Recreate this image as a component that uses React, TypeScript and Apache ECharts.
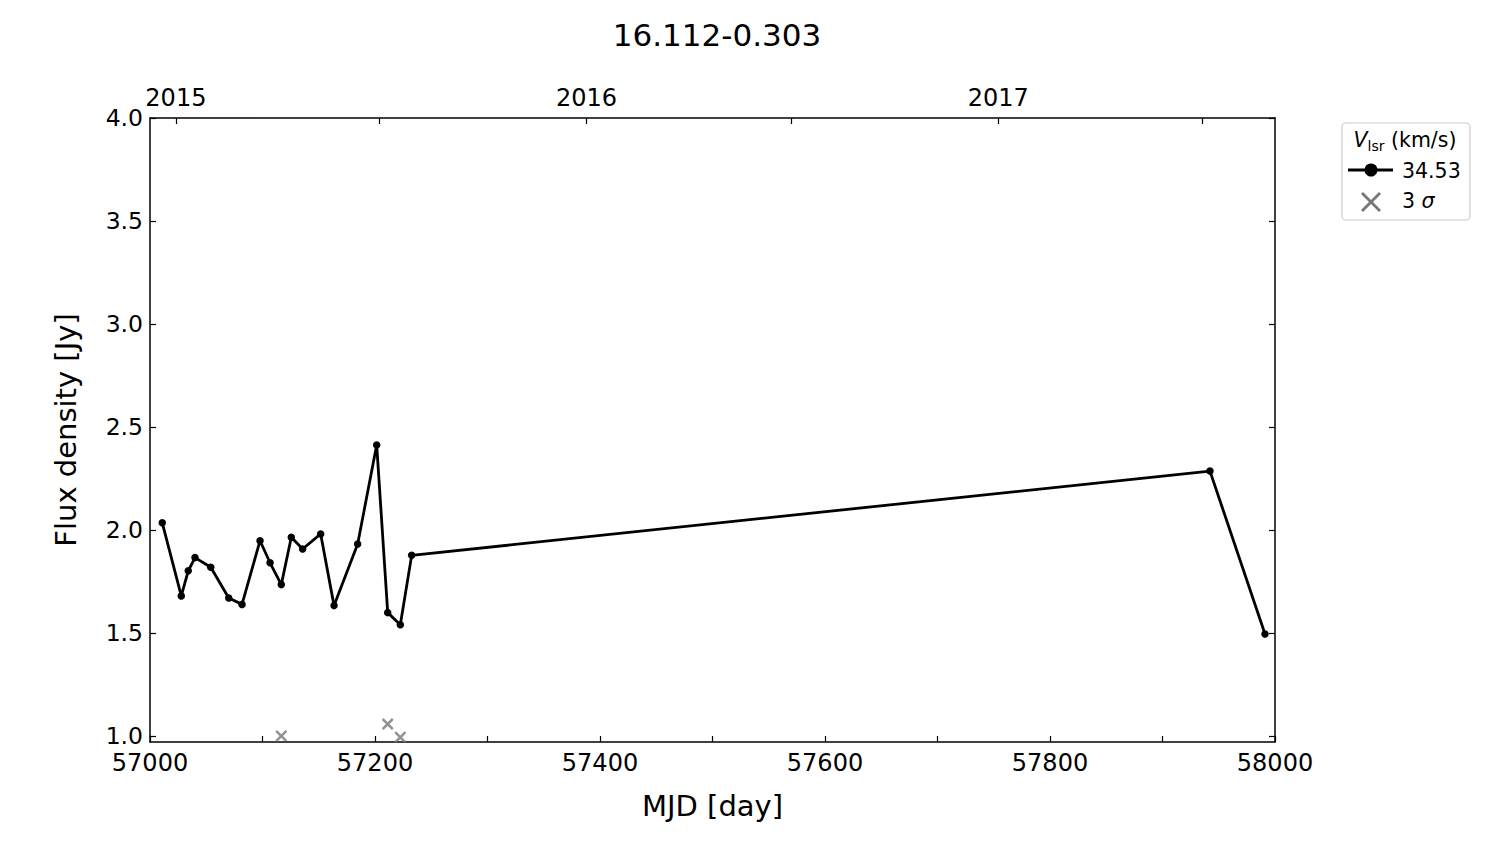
import React, { useEffect, useRef } from "react";
import * as echarts from "echarts";

const mjd = [57010.9, 57027.8, 57034, 57040, 57054, 57070, 57081.8, 57097.8, 57106.7, 57116.7, 57125.6, 57135.7, 57151.7, 57163.6, 57184.6, 57201.5, 57211.3, 57222.5, 57232.6, 57942.2, 57991.1];
const flux = [2.035, 1.68, 1.802, 1.866, 1.819, 1.67, 1.639, 1.948, 1.841, 1.735, 1.965, 1.908, 1.981, 1.633, 1.932, 2.413, 1.599, 1.54, 1.877, 2.286, 1.495];
const sigmaMjd = [57116.7, 57211.3, 57222.5];
const sigmaFlux = [1.0, 1.058, 0.994];
const yTicks = [1.0, 1.5, 2.0, 2.5, 3.0, 3.5, 4.0];
const xLabels = [57000, 57200, 57400, 57600, 57800, 58000];
const yearMjd = [57023, 57388, 57754];
const yearLabels = ["2015", "2016", "2017"];
const halfYearMjd = [57023, 57204, 57388, 57570, 57754, 57935];

const FONT = "DejaVu Sans";
const CROSS = "path://M0,1.5 L1.5,0 L5,3.5 L8.5,0 L10,1.5 L6.5,5 L10,8.5 L8.5,10 L5,6.5 L1.5,10 L0,8.5 L3.5,5 Z";

export default function App() {
  const ref = useRef<HTMLDivElement>(null);
  useEffect(() => {
    if (!ref.current) return;
    const chart = echarts.init(ref.current, null, { renderer: "svg" });
    const lineData = mjd.map((x, i) => [x, flux[i]]);
    const sigData = sigmaMjd.map((x, i) => [x, sigmaFlux[i]]);
    const axisLine = { show: true, lineStyle: { color: "#000", width: 1.5 } };
    chart.setOption({
      animation: false,
      backgroundColor: "#fff",
      title: {
        text: "16.112-0.303",
        left: 712,
        top: 14,
        textAlign: "center",
        textStyle: { fontFamily: FONT, fontSize: 31, fontWeight: "normal", color: "#000" },
      },
      grid: { left: 150, right: 225, top: 118, bottom: 102, containLabel: false },
      xAxis: [
        {
          type: "value",
          position: "bottom",
          min: 57000,
          max: 58000,
          interval: 100,
          name: "MJD [day]",
          nameLocation: "middle",
          nameGap: 49,
          nameTextStyle: { fontFamily: FONT, fontSize: 29, color: "#000" },
          axisLine,
          axisTick: { show: true, inside: true, length: 6, lineStyle: { color: "#000", width: 1.2 } },
          axisLabel: {
            customValues: xLabels,
            fontFamily: FONT,
            fontSize: 24,
            lineHeight: 20,
            color: "#000",
            margin: 11,
            formatter: (v: number) => String(Math.round(v)),
          },
          splitLine: { show: false },
        },
        {
          type: "value",
          position: "top",
          min: 57000,
          max: 58000,
          axisLine,
          axisTick: { show: true, inside: true, length: 6, customValues: halfYearMjd, lineStyle: { color: "#000", width: 1.2 } },
          axisLabel: {
            customValues: yearMjd,
            fontFamily: FONT,
            fontSize: 24,
            lineHeight: 20,
            color: "#000",
            margin: 10,
            formatter: (v: number) => {
              const i = yearMjd.findIndex((m) => Math.abs(m - v) < 1);
              return i >= 0 ? yearLabels[i] : "";
            },
          },
          splitLine: { show: false },
        },
      ],
      yAxis: [
        {
          type: "value",
          position: "left",
          min: 0.971,
          max: 4.0,
          name: "Flux density [Jy]",
          nameLocation: "middle",
          nameGap: 70,
          nameTextStyle: { fontFamily: FONT, fontSize: 29, color: "#000" },
          axisLine,
          axisTick: { show: true, inside: true, length: 6, customValues: yTicks, lineStyle: { color: "#000", width: 1.2 } },
          axisLabel: {
            customValues: yTicks,
            fontFamily: FONT,
            fontSize: 23.5,
            lineHeight: 18,
            color: "#000",
            margin: 7,
            formatter: (v: number) => v.toFixed(1),
          },
          splitLine: { show: false },
        },
        {
          type: "value",
          position: "right",
          min: 0.971,
          max: 4.0,
          axisLine,
          axisTick: { show: true, inside: true, length: 6, customValues: yTicks, lineStyle: { color: "#000", width: 1.2 } },
          axisLabel: { show: false },
          splitLine: { show: false },
        },
      ],
      series: [
        {
          type: "line",
          data: lineData,
          xAxisIndex: 0,
          yAxisIndex: 0,
          symbol: "circle",
          symbolSize: 7.5,
          showSymbol: true,
          lineStyle: { color: "#000", width: 2.8 },
          itemStyle: { color: "#000" },
          clip: true,
          z: 3,
        },
        {
          type: "scatter",
          data: sigData,
          xAxisIndex: 0,
          yAxisIndex: 0,
          symbol: CROSS,
          symbolSize: 12,
          itemStyle: { color: "#777777" },
          clip: true,
          z: 2,
        },
      ],
      graphic: [
        {
          type: "rect",
          shape: { x: 1342, y: 123, width: 128, height: 97, r: 4 },
          style: { fill: "#fff", stroke: "#cccccc", lineWidth: 1.2 },
        },
        {
          type: "text",
          x: 1405,
          y: 140,
          style: {
            text: "{v|V}{s|lsr}{n| (km/s)}",
            align: "center",
            verticalAlign: "middle",
            rich: {
              v: { fontFamily: FONT, fontSize: 20.5, fontStyle: "italic", fill: "#000" },
              s: { fontFamily: FONT, fontSize: 14, fill: "#000", padding: [12, 0, 0, 0] },
              n: { fontFamily: FONT, fontSize: 20.5, fill: "#000" },
            },
          },
        },
        { type: "line", shape: { x1: 1348, y1: 170, x2: 1393, y2: 170 }, style: { stroke: "#000", lineWidth: 2.8 } },
        { type: "circle", shape: { cx: 1371, cy: 170, r: 6.5 }, style: { fill: "#000" } },
        {
          type: "text",
          x: 1402,
          y: 171,
          style: { text: "34.53", fontFamily: FONT, fontSize: 20.5, fill: "#000", verticalAlign: "middle" },
        },
        { type: "line", shape: { x1: 1362, y1: 193, x2: 1380, y2: 211 }, style: { stroke: "#777777", lineWidth: 2.8 } },
        { type: "line", shape: { x1: 1380, y1: 193, x2: 1362, y2: 211 }, style: { stroke: "#777777", lineWidth: 2.8 } },
        {
          type: "text",
          x: 1402,
          y: 201,
          style: {
            text: "{n|3 }{i|σ}",
            verticalAlign: "middle",
            rich: {
              n: { fontFamily: FONT, fontSize: 20.5, fill: "#000" },
              i: { fontFamily: FONT, fontSize: 20.5, fontStyle: "italic", fill: "#000" },
            },
          },
        },
      ],
    });
    return () => chart.dispose();
  }, []);
  return <div ref={ref} style={{ position: "fixed", left: 0, top: 0, width: 1500, height: 844 }} />;
}
